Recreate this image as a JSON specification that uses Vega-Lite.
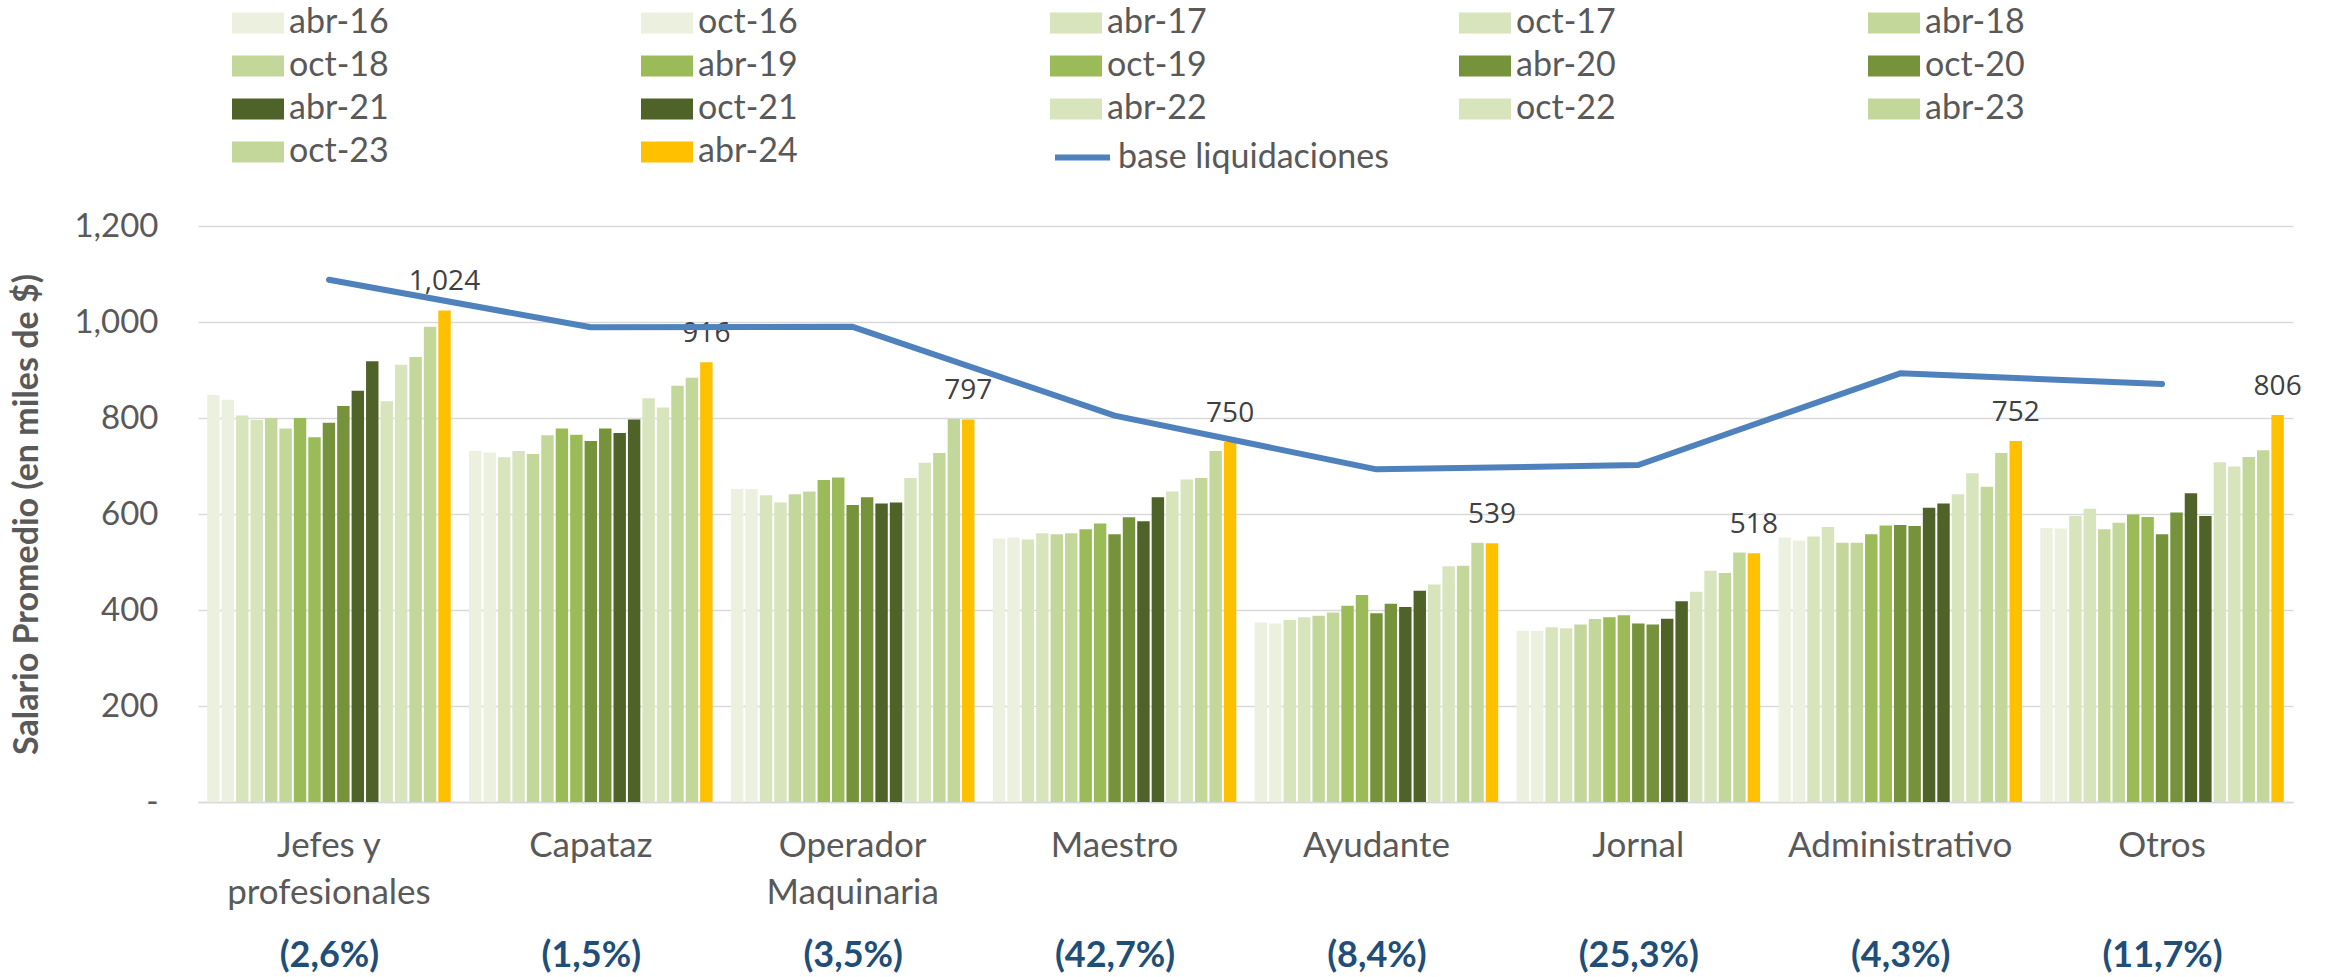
{
  "$schema": "https://vega.github.io/schema/vega-lite/v6.json",
  "width": 2095,
  "height": 576,
  "autosize": {"type": "none"},
  "padding": {"left": 198, "top": 226, "right": 38, "bottom": 175},
  "background": "white",
  "config": {
    "font": "Lato",
    "view": {"stroke": null},
    "axis": {"labelFont": "Lato", "titleFont": "Lato"},
    "legend": {"padding": 0}
  },
  "datasets": {
    "bars": [
      {"c": "Jefes y profesionales", "p": "abr-16", "v": 848}, {"c": "Jefes y profesionales", "p": "oct-16", "v": 838}, {"c": "Jefes y profesionales", "p": "abr-17", "v": 805}, {"c": "Jefes y profesionales", "p": "oct-17", "v": 796}, {"c": "Jefes y profesionales", "p": "abr-18", "v": 800}, {"c": "Jefes y profesionales", "p": "oct-18", "v": 778}, {"c": "Jefes y profesionales", "p": "abr-19", "v": 800}, {"c": "Jefes y profesionales", "p": "oct-19", "v": 760}, {"c": "Jefes y profesionales", "p": "abr-20", "v": 790}, {"c": "Jefes y profesionales", "p": "oct-20", "v": 825}, {"c": "Jefes y profesionales", "p": "abr-21", "v": 857}, {"c": "Jefes y profesionales", "p": "oct-21", "v": 918}, {"c": "Jefes y profesionales", "p": "abr-22", "v": 835}, {"c": "Jefes y profesionales", "p": "oct-22", "v": 911}, {"c": "Jefes y profesionales", "p": "abr-23", "v": 927}, {"c": "Jefes y profesionales", "p": "oct-23", "v": 990}, {"c": "Jefes y profesionales", "p": "abr-24", "v": 1024},
      {"c": "Capataz", "p": "abr-16", "v": 731}, {"c": "Capataz", "p": "oct-16", "v": 728}, {"c": "Capataz", "p": "abr-17", "v": 718}, {"c": "Capataz", "p": "oct-17", "v": 731}, {"c": "Capataz", "p": "abr-18", "v": 725}, {"c": "Capataz", "p": "oct-18", "v": 764}, {"c": "Capataz", "p": "abr-19", "v": 778}, {"c": "Capataz", "p": "oct-19", "v": 765}, {"c": "Capataz", "p": "abr-20", "v": 752}, {"c": "Capataz", "p": "oct-20", "v": 778}, {"c": "Capataz", "p": "abr-21", "v": 769}, {"c": "Capataz", "p": "oct-21", "v": 797}, {"c": "Capataz", "p": "abr-22", "v": 841}, {"c": "Capataz", "p": "oct-22", "v": 822}, {"c": "Capataz", "p": "abr-23", "v": 867}, {"c": "Capataz", "p": "oct-23", "v": 884}, {"c": "Capataz", "p": "abr-24", "v": 916},
      {"c": "Operador Maquinaria", "p": "abr-16", "v": 652}, {"c": "Operador Maquinaria", "p": "oct-16", "v": 652}, {"c": "Operador Maquinaria", "p": "abr-17", "v": 639}, {"c": "Operador Maquinaria", "p": "oct-17", "v": 624}, {"c": "Operador Maquinaria", "p": "abr-18", "v": 641}, {"c": "Operador Maquinaria", "p": "oct-18", "v": 647}, {"c": "Operador Maquinaria", "p": "abr-19", "v": 671}, {"c": "Operador Maquinaria", "p": "oct-19", "v": 676}, {"c": "Operador Maquinaria", "p": "abr-20", "v": 619}, {"c": "Operador Maquinaria", "p": "oct-20", "v": 635}, {"c": "Operador Maquinaria", "p": "abr-21", "v": 622}, {"c": "Operador Maquinaria", "p": "oct-21", "v": 624}, {"c": "Operador Maquinaria", "p": "abr-22", "v": 675}, {"c": "Operador Maquinaria", "p": "oct-22", "v": 707}, {"c": "Operador Maquinaria", "p": "abr-23", "v": 727}, {"c": "Operador Maquinaria", "p": "oct-23", "v": 798}, {"c": "Operador Maquinaria", "p": "abr-24", "v": 797},
      {"c": "Maestro", "p": "abr-16", "v": 549}, {"c": "Maestro", "p": "oct-16", "v": 551}, {"c": "Maestro", "p": "abr-17", "v": 547}, {"c": "Maestro", "p": "oct-17", "v": 560}, {"c": "Maestro", "p": "abr-18", "v": 558}, {"c": "Maestro", "p": "oct-18", "v": 560}, {"c": "Maestro", "p": "abr-19", "v": 568}, {"c": "Maestro", "p": "oct-19", "v": 580}, {"c": "Maestro", "p": "abr-20", "v": 558}, {"c": "Maestro", "p": "oct-20", "v": 593}, {"c": "Maestro", "p": "abr-21", "v": 585}, {"c": "Maestro", "p": "oct-21", "v": 635}, {"c": "Maestro", "p": "abr-22", "v": 647}, {"c": "Maestro", "p": "oct-22", "v": 672}, {"c": "Maestro", "p": "abr-23", "v": 675}, {"c": "Maestro", "p": "oct-23", "v": 731}, {"c": "Maestro", "p": "abr-24", "v": 750},
      {"c": "Ayudante", "p": "abr-16", "v": 374}, {"c": "Ayudante", "p": "oct-16", "v": 372}, {"c": "Ayudante", "p": "abr-17", "v": 379}, {"c": "Ayudante", "p": "oct-17", "v": 385}, {"c": "Ayudante", "p": "abr-18", "v": 388}, {"c": "Ayudante", "p": "oct-18", "v": 395}, {"c": "Ayudante", "p": "abr-19", "v": 409}, {"c": "Ayudante", "p": "oct-19", "v": 431}, {"c": "Ayudante", "p": "abr-20", "v": 393}, {"c": "Ayudante", "p": "oct-20", "v": 413}, {"c": "Ayudante", "p": "abr-21", "v": 406}, {"c": "Ayudante", "p": "oct-21", "v": 440}, {"c": "Ayudante", "p": "abr-22", "v": 453}, {"c": "Ayudante", "p": "oct-22", "v": 491}, {"c": "Ayudante", "p": "abr-23", "v": 492}, {"c": "Ayudante", "p": "oct-23", "v": 540}, {"c": "Ayudante", "p": "abr-24", "v": 539},
      {"c": "Jornal", "p": "abr-16", "v": 357}, {"c": "Jornal", "p": "oct-16", "v": 356}, {"c": "Jornal", "p": "abr-17", "v": 364}, {"c": "Jornal", "p": "oct-17", "v": 362}, {"c": "Jornal", "p": "abr-18", "v": 370}, {"c": "Jornal", "p": "oct-18", "v": 381}, {"c": "Jornal", "p": "abr-19", "v": 385}, {"c": "Jornal", "p": "oct-19", "v": 389}, {"c": "Jornal", "p": "abr-20", "v": 372}, {"c": "Jornal", "p": "oct-20", "v": 370}, {"c": "Jornal", "p": "abr-21", "v": 382}, {"c": "Jornal", "p": "oct-21", "v": 418}, {"c": "Jornal", "p": "abr-22", "v": 438}, {"c": "Jornal", "p": "oct-22", "v": 482}, {"c": "Jornal", "p": "abr-23", "v": 477}, {"c": "Jornal", "p": "oct-23", "v": 520}, {"c": "Jornal", "p": "abr-24", "v": 518},
      {"c": "Administrativo", "p": "abr-16", "v": 551}, {"c": "Administrativo", "p": "oct-16", "v": 545}, {"c": "Administrativo", "p": "abr-17", "v": 553}, {"c": "Administrativo", "p": "oct-17", "v": 573}, {"c": "Administrativo", "p": "abr-18", "v": 540}, {"c": "Administrativo", "p": "oct-18", "v": 540}, {"c": "Administrativo", "p": "abr-19", "v": 558}, {"c": "Administrativo", "p": "oct-19", "v": 576}, {"c": "Administrativo", "p": "abr-20", "v": 577}, {"c": "Administrativo", "p": "oct-20", "v": 575}, {"c": "Administrativo", "p": "abr-21", "v": 613}, {"c": "Administrativo", "p": "oct-21", "v": 622}, {"c": "Administrativo", "p": "abr-22", "v": 641}, {"c": "Administrativo", "p": "oct-22", "v": 685}, {"c": "Administrativo", "p": "abr-23", "v": 657}, {"c": "Administrativo", "p": "oct-23", "v": 727}, {"c": "Administrativo", "p": "abr-24", "v": 752},
      {"c": "Otros", "p": "abr-16", "v": 571}, {"c": "Otros", "p": "oct-16", "v": 570}, {"c": "Otros", "p": "abr-17", "v": 596}, {"c": "Otros", "p": "oct-17", "v": 611}, {"c": "Otros", "p": "abr-18", "v": 568}, {"c": "Otros", "p": "oct-18", "v": 582}, {"c": "Otros", "p": "abr-19", "v": 599}, {"c": "Otros", "p": "oct-19", "v": 594}, {"c": "Otros", "p": "abr-20", "v": 558}, {"c": "Otros", "p": "oct-20", "v": 603}, {"c": "Otros", "p": "abr-21", "v": 643}, {"c": "Otros", "p": "oct-21", "v": 596}, {"c": "Otros", "p": "abr-22", "v": 708}, {"c": "Otros", "p": "oct-22", "v": 699}, {"c": "Otros", "p": "abr-23", "v": 719}, {"c": "Otros", "p": "oct-23", "v": 733}, {"c": "Otros", "p": "abr-24", "v": 806}
    ],
    "base": [
      {"c": "Jefes y profesionales", "v": 1088},
      {"c": "Capataz", "v": 989},
      {"c": "Operador Maquinaria", "v": 990},
      {"c": "Maestro", "v": 805},
      {"c": "Ayudante", "v": 693},
      {"c": "Jornal", "v": 702},
      {"c": "Administrativo", "v": 893},
      {"c": "Otros", "v": 871}
    ]
  },
  "layer": [
    {
      "data": {"name": "bars"},
      "encoding": {
        "x": {
          "field": "c", "type": "nominal", "sort": null,
          "scale": {"domain": ["Jefes y profesionales", "Capataz", "Operador Maquinaria", "Maestro", "Ayudante", "Jornal", "Administrativo", "Otros"], "paddingInner": 0.07, "paddingOuter": 0.035},
          "axis": {
            "title": null, "orient": "bottom", "labelAngle": 0, "ticks": false,
            "domain": true, "domainColor": "#D9D9D9", "domainWidth": 1.5,
            "labelFontSize": 35, "labelColor": "#595959", "labelPadding": 26, "labelLineHeight": 47,
            "labelBaseline": "top", "labelLimit": 0,
            "labelExpr": "datum.value == 'Jefes y profesionales' ? ['Jefes y', 'profesionales'] : datum.value == 'Operador Maquinaria' ? ['Operador', 'Maquinaria'] : datum.label"
          }
        },
        "xOffset": {
          "field": "p", "type": "nominal", "sort": null,
          "scale": {"domain": ["abr-16", "oct-16", "abr-17", "oct-17", "abr-18", "oct-18", "abr-19", "oct-19", "abr-20", "oct-20", "abr-21", "oct-21", "abr-22", "oct-22", "abr-23", "oct-23", "abr-24"], "paddingInner": 0.14, "paddingOuter": 0}
        },
        "y": {
          "field": "v", "type": "quantitative", "stack": null,
          "scale": {"domain": [0, 1200], "nice": false},
          "axis": {
            "title": "Salario Promedio (en miles de $)", "titleFontSize": 34, "titleFontWeight": "bold", "titleColor": "#595959",
            "titleX": -171, "titleY": 288, "titleAngle": -90, "titleAlign": "center", "titleBaseline": "middle",
            "values": [0, 200, 400, 600, 800, 1000, 1200],
            "labelExpr": "datum.value == 0 ? '-' : format(datum.value, ',')",
            "labelFontSize": 33, "labelColor": "#595959", "labelPadding": 40,
            "ticks": false, "domain": false,
            "grid": true, "gridColor": "#D9D9D9", "gridWidth": 1.5
          }
        }
      },
      "layer": [
        {
          "mark": {"type": "bar"},
          "encoding": {
            "color": {
              "field": "p", "type": "nominal", "sort": null,
              "scale": {
                "domain": ["abr-16", "oct-16", "abr-17", "oct-17", "abr-18", "oct-18", "abr-19", "oct-19", "abr-20", "oct-20", "abr-21", "oct-21", "abr-22", "oct-22", "abr-23", "oct-23", "abr-24"],
                "range": ["#EBF1DE", "#EBF1DE", "#D8E4BC", "#D8E4BC", "#C4D79B", "#C4D79B", "#9BBB59", "#9BBB59", "#76933C", "#76933C", "#4F6228", "#4F6228", "#D8E4BC", "#D8E4BC", "#C4D79B", "#C4D79B", "#FFC000"]
              },
              "legend": {
                "orient": "none", "legendX": 34, "legendY": -229, "direction": "horizontal", "columns": 5,
                "title": null, "symbolType": "M-1,-0.4H1V0.4H-1Z", "symbolSize": 2704, "symbolStrokeWidth": 0,
                "labelFontSize": 34, "labelColor": "#595959", "labelFont": "Lato", "labelOffset": 5, "labelLimit": 0,
                "columnPadding": 252, "rowPadding": -3.5, "gridAlign": "all"
              }
            }
          }
        },
        {
          "transform": [{"filter": "datum.p == 'abr-24'"}],
          "mark": {"type": "text", "baseline": "alphabetic", "dy": -20, "font": "Open Sans", "fontSize": 28, "color": "#404040"},
          "encoding": {
            "text": {"field": "v", "type": "quantitative", "format": ",.0f"}
          }
        }
      ]
    },
    {
      "data": {"name": "base"},
      "mark": {"type": "line", "strokeWidth": 6, "strokeCap": "round", "strokeJoin": "round"},
      "encoding": {
        "x": {
          "field": "c", "type": "nominal", "sort": null,
          "scale": {"domain": ["Jefes y profesionales", "Capataz", "Operador Maquinaria", "Maestro", "Ayudante", "Jornal", "Administrativo", "Otros"], "paddingInner": 0.07, "paddingOuter": 0.035},
          "axis": {
            "title": null, "orient": "bottom", "labelAngle": 0, "ticks": false, "domain": false, "grid": false,
            "labelFontSize": 36, "labelFontWeight": "bold", "labelColor": "#1F4E79", "labelPadding": 136, "labelBaseline": "top",
            "labelExpr": "datum.value == 'Jefes y profesionales' ? '(2,6%)' : datum.value == 'Capataz' ? '(1,5%)' : datum.value == 'Operador Maquinaria' ? '(3,5%)' : datum.value == 'Maestro' ? '(42,7%)' : datum.value == 'Ayudante' ? '(8,4%)' : datum.value == 'Jornal' ? '(25,3%)' : datum.value == 'Administrativo' ? '(4,3%)' : '(11,7%)'"
          }
        },
        "y": {"field": "v", "type": "quantitative"},
        "stroke": {
          "datum": "base liquidaciones", "type": "nominal",
          "scale": {"range": ["#4F81BD"]},
          "legend": {
            "orient": "none", "legendX": 854, "legendY": -99, "title": null,
            "symbolType": "stroke", "symbolSize": 3025, "symbolStrokeWidth": 6,
            "labelFontSize": 34, "labelColor": "#595959", "labelFont": "Lato", "labelOffset": 5, "labelLimit": 0
          }
        }
      }
    }
  ],
  "resolve": {"scale": {"x": "independent"}, "axis": {"x": "independent"}}
}
